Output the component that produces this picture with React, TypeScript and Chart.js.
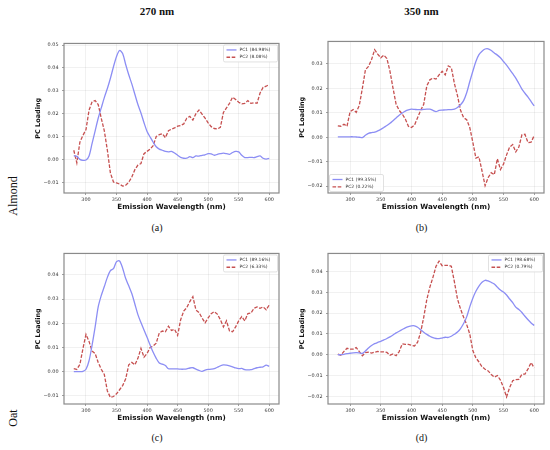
import React, { useEffect, useRef } from 'react';
import { Chart, registerables } from 'chart.js';

Chart.register(...registerables);
Chart.defaults.font.family = '"DejaVu Sans", sans-serif';

// Emission wavelengths (nm), 5 nm step
const wavelengths = [
  280, 285, 290, 295, 300, 305, 310, 315, 320, 325, 330, 335, 340,
  345, 350, 355, 360, 365, 370, 375, 380, 385, 390, 395, 400, 405,
  410, 415, 420, 425, 430, 435, 440, 445, 450, 455, 460, 465, 470,
  475, 480, 485, 490, 495, 500, 505, 510, 515, 520, 525, 530, 535,
  540, 545, 550, 555, 560, 565, 570, 575, 580, 585, 590, 595, 600,
];

// (a) Almond, excitation 270 nm
const almond270PC1 = [
  0.0016, 0.0013, 0.0000, -0.0004, -0.0003, 0.0015, 0.0070, 0.0125, 0.0180, 0.0225, 0.0270, 0.0310, 0.0355,
  0.0405, 0.0450, 0.0476, 0.0463, 0.0415, 0.0370, 0.0330, 0.0285, 0.0240, 0.0203, 0.0160, 0.0122, 0.0098,
  0.0075, 0.0055, 0.0045, 0.0040, 0.0035, 0.0033, 0.0035, 0.0028, 0.0018, 0.0009, 0.0005, 0.0005, 0.0012,
  0.0008, 0.0015, 0.0014, 0.0018, 0.0020, 0.0025, 0.0024, 0.0018, 0.0022, 0.0025, 0.0027, 0.0025, 0.0022,
  0.0030, 0.0035, 0.0033, 0.0018, 0.0008, 0.0008, 0.0009, 0.0008, 0.0012, 0.0015, 0.0005, 0.0001, 0.0004,
];
const almond270PC2 = [
  0.0040, -0.0015, 0.0075, 0.0105, 0.0130, 0.0215, 0.0252, 0.0257, 0.0240, 0.0180, 0.0125, 0.0040, -0.0060,
  -0.0099, -0.0103, -0.0108, -0.0117, -0.0113, -0.0100, -0.0077, -0.0045, -0.0025, -0.0018, 0.0025, 0.0035, 0.0045,
  0.0060, 0.0100, 0.0108, 0.0112, 0.0095, 0.0125, 0.0132, 0.0138, 0.0145, 0.0148, 0.0155, 0.0180, 0.0188,
  0.0172, 0.0200, 0.0216, 0.0198, 0.0180, 0.0160, 0.0143, 0.0135, 0.0133, 0.0140, 0.0205, 0.0225, 0.0245,
  0.0272, 0.0262, 0.0250, 0.0243, 0.0245, 0.0257, 0.0245, 0.0248, 0.0245, 0.0290, 0.0315, 0.0320, 0.0328,
];

// (b) Almond, excitation 350 nm
const almond350PC1 = [
  0.0002, 0.0002, 0.0002, 0.0002, 0.0002, 0.0002, 0.0001, 0.0000, -0.0001, 0.0008, 0.0016, 0.0019, 0.0021,
  0.0026, 0.0032, 0.0040, 0.0048, 0.0057, 0.0068, 0.0079, 0.0090, 0.0099, 0.0107, 0.0112, 0.0115, 0.0114,
  0.0113, 0.0113, 0.0114, 0.0115, 0.0115, 0.0110, 0.0105, 0.0110, 0.0111, 0.0112, 0.0113, 0.0113, 0.0115,
  0.0122, 0.0133, 0.0150, 0.0182, 0.0227, 0.0270, 0.0310, 0.0338, 0.0352, 0.0361, 0.0362, 0.0355, 0.0345,
  0.0336, 0.0325, 0.0310, 0.0295, 0.0278, 0.0260, 0.0242, 0.0220, 0.0197, 0.0180, 0.0164, 0.0146, 0.0128,
];
const almond350PC2 = [
  0.0047, 0.0045, 0.0053, 0.0045, 0.0105, 0.0113, 0.0102, 0.0130, 0.0200, 0.0276, 0.0290, 0.0318, 0.0358,
  0.0340, 0.0325, 0.0336, 0.0322, 0.0270, 0.0200, 0.0135, 0.0110, 0.0095, 0.0075, 0.0045, 0.0040, 0.0050,
  0.0080, 0.0110, 0.0135, 0.0210, 0.0235, 0.0242, 0.0238, 0.0255, 0.0270, 0.0255, 0.0292, 0.0285, 0.0220,
  0.0170, 0.0110, 0.0080, 0.0072, 0.0040, -0.0020, -0.0085, -0.0080, -0.0138, -0.0198, -0.0165, -0.0145, -0.0153,
  -0.0088, -0.0132, -0.0110, -0.0072, -0.0040, -0.0030, -0.0060, -0.0040, 0.0010, 0.0012, -0.0022, -0.0020, 0.0007,
];

// (c) Oat, excitation 270 nm
const oat270PC1 = [
  0.0000, 0.0000, 0.0000, 0.0001, 0.0010, 0.0045, 0.0110, 0.0185, 0.0268, 0.0315, 0.0352, 0.0390, 0.0418,
  0.0426, 0.0455, 0.0458, 0.0428, 0.0385, 0.0355, 0.0323, 0.0280, 0.0236, 0.0203, 0.0172, 0.0142, 0.0110,
  0.0080, 0.0055, 0.0036, 0.0031, 0.0025, 0.0012, 0.0011, 0.0011, 0.0011, 0.0010, 0.0010, 0.0011, 0.0015,
  0.0016, 0.0010, 0.0005, 0.0001, 0.0006, 0.0009, 0.0010, 0.0012, 0.0018, 0.0024, 0.0028, 0.0027, 0.0024,
  0.0020, 0.0015, 0.0012, 0.0013, 0.0008, 0.0007, 0.0008, 0.0012, 0.0016, 0.0018, 0.0020, 0.0027, 0.0022,
];
const oat270PC2 = [
  0.0012, 0.0009, 0.0030, 0.0095, 0.0154, 0.0125, 0.0085, 0.0075, 0.0038, 0.0010, -0.0012, -0.0080, -0.0107,
  -0.0103, -0.0092, -0.0075, -0.0058, -0.0030, 0.0028, 0.0038, 0.0028, 0.0055, 0.0096, 0.0060, 0.0075, 0.0100,
  0.0106, 0.0118, 0.0160, 0.0168, 0.0165, 0.0188, 0.0170, 0.0175, 0.0150, 0.0215, 0.0250, 0.0265, 0.0290,
  0.0310, 0.0255, 0.0245, 0.0222, 0.0202, 0.0222, 0.0240, 0.0248, 0.0238, 0.0215, 0.0185, 0.0210, 0.0168,
  0.0165, 0.0185, 0.0210, 0.0228, 0.0210, 0.0240, 0.0242, 0.0262, 0.0268, 0.0262, 0.0268, 0.0256, 0.0276,
];

// (d) Oat, excitation 350 nm
const oat350PC1 = [
  0.0000, 0.0000, 0.0002, 0.0005, 0.0007, 0.0009, 0.0010, 0.0009, 0.0006, 0.0018, 0.0032, 0.0044, 0.0053,
  0.0059, 0.0064, 0.0071, 0.0078, 0.0086, 0.0095, 0.0105, 0.0113, 0.0121, 0.0129, 0.0135, 0.0139, 0.0139,
  0.0132, 0.0120, 0.0108, 0.0098, 0.0089, 0.0082, 0.0078, 0.0077, 0.0080, 0.0084, 0.0083, 0.0089, 0.0098,
  0.0109, 0.0126, 0.0150, 0.0182, 0.0230, 0.0272, 0.0305, 0.0330, 0.0348, 0.0358, 0.0355, 0.0348, 0.0340,
  0.0325, 0.0311, 0.0301, 0.0287, 0.0268, 0.0250, 0.0229, 0.0217, 0.0203, 0.0185, 0.0168, 0.0153, 0.0141,
];
const oat350PC2 = [
  0.0003, -0.0002, 0.0016, 0.0031, 0.0027, 0.0027, 0.0034, 0.0015, -0.0005, 0.0010, 0.0012, 0.0008, 0.0012,
  0.0016, 0.0014, 0.0014, 0.0011, -0.0002, 0.0004, -0.0005, 0.0015, 0.0052, 0.0050, 0.0050, 0.0045, 0.0042,
  0.0060, 0.0108, 0.0180, 0.0265, 0.0325, 0.0372, 0.0425, 0.0450, 0.0428, 0.0430, 0.0430, 0.0425, 0.0350,
  0.0268, 0.0220, 0.0180, 0.0145, 0.0100, 0.0020, -0.0015, -0.0035, -0.0058, -0.0070, -0.0078, -0.0095, -0.0108,
  -0.0100, -0.0122, -0.0158, -0.0203, -0.0158, -0.0125, -0.0120, -0.0119, -0.0094, -0.0093, -0.0068, -0.0038, -0.0064,
];

const xTicks = [300, 350, 400, 450, 500, 550, 600];
const yTicksA = [-0.01, 0, 0.01, 0.02, 0.03, 0.04, 0.05];
const yTicksB = [-0.02, -0.01, 0, 0.01, 0.02, 0.03];
const yTicksC = [-0.01, 0, 0.01, 0.02, 0.03, 0.04];
const yTicksD = [-0.02, -0.01, 0, 0.01, 0.02, 0.03, 0.04];

const legendA = ['PC1 (84.98%)', 'PC2 (8.08%)'];
const legendB = ['PC1 (99.35%)', 'PC2 (0.22%)'];
const legendC = ['PC1 (89.16%)', 'PC2 (6.33%)'];
const legendD = ['PC1 (98.68%)', 'PC2 (0.79%)'];

const PC1_COLOR = '#8c8ef4';
const PC2_COLOR = '#c65050';
const Y_AXIS_W = 40;
const X_AXIS_H = 22;
const PAD = 4;

const fmtY = (v: number): string => {
  const s = Math.abs(v) < 1e-9 ? '0.00' : v.toFixed(2);
  return s.replace('-', '\u2212');
};

interface PanelProps {
  box: [number, number, number, number]; // left, top, right, bottom of the axes
  pc1: number[];
  pc2: number[];
  labels: string[];
  yMin: number;
  yMax: number;
  yTicks: number[];
  legendPos: 'upper right' | 'lower left';
}

const Panel: React.FC<PanelProps> = ({ box, pc1, pc2, labels, yMin, yMax, yTicks, legendPos }) => {
  const canvasRef = useRef<HTMLCanvasElement>(null);
  const [l, t, r, b] = box;
  const width = r - l + Y_AXIS_W + PAD;
  const height = b - t + X_AXIS_H + PAD;

  useEffect(() => {
    if (!canvasRef.current) return;

    // axes frame (spines)
    const framePlugin = {
      id: 'frame',
      afterDatasetsDraw(chart: Chart) {
        const { ctx, chartArea: a } = chart;
        ctx.save();
        ctx.strokeStyle = '#8a8a8a';
        ctx.lineWidth = 1.2;
        ctx.strokeRect(a.left, a.top, a.right - a.left, a.bottom - a.top);
        ctx.restore();
      },
    };

    // matplotlib style legend inside the axes
    const legendPlugin = {
      id: 'innerLegend',
      afterDraw(chart: Chart) {
        const { ctx, chartArea: a } = chart;
        const w = 54;
        const h = 17;
        const x = legendPos === 'upper right' ? a.right - w - 1.5 : a.left + 1.5;
        const y = legendPos === 'upper right' ? a.top + 1.5 : a.bottom - h - 1.5;
        ctx.save();
        ctx.fillStyle = 'rgba(255,255,255,0.85)';
        ctx.strokeStyle = '#d4d4d4';
        ctx.lineWidth = 0.7;
        ctx.beginPath();
        ctx.roundRect(x, y, w, h, 1.5);
        ctx.fill();
        ctx.stroke();
        chart.data.datasets.forEach((ds: any, i: number) => {
          const cy = y + 5 + i * 7.3;
          ctx.strokeStyle = ds.borderColor;
          ctx.lineWidth = ds.borderWidth;
          ctx.setLineDash(ds.borderDash || []);
          ctx.beginPath();
          ctx.moveTo(x + 3, cy);
          ctx.lineTo(x + 13, cy);
          ctx.stroke();
          ctx.setLineDash([]);
          ctx.fillStyle = '#333';
          ctx.font = '4.5px "DejaVu Sans"';
          ctx.textBaseline = 'middle';
          ctx.textAlign = 'left';
          ctx.fillText(ds.label, x + 16, cy);
        });
        ctx.restore();
      },
    };

    const chart = new Chart(canvasRef.current, {
      type: 'line',
      data: {
        datasets: [
          {
            label: labels[0],
            data: wavelengths.map((w, i) => ({ x: w, y: pc1[i] })),
            borderColor: PC1_COLOR,
            borderWidth: 1.3,
            pointRadius: 0,
            tension: 0.3,
          },
          {
            label: labels[1],
            data: wavelengths.map((w, i) => ({ x: w, y: pc2[i] })),
            borderColor: PC2_COLOR,
            borderWidth: 1.3,
            borderDash: [3.6, 1.6],
            pointRadius: 0,
            tension: 0,
          },
        ],
      },
      options: {
        animation: false,
        responsive: true,
        maintainAspectRatio: false,
        layout: { padding: { left: 0, top: PAD, right: PAD, bottom: 0 } },
        plugins: { legend: { display: false }, tooltip: { enabled: false } },
        scales: {
          x: {
            type: 'linear',
            min: 264,
            max: 616,
            afterFit: (scale: any) => { scale.height = X_AXIS_H; },
            afterBuildTicks: (scale: any) => { scale.ticks = xTicks.map(v => ({ value: v })); },
            grid: { color: 'rgba(0,0,0,0.07)', lineWidth: 0.8, tickLength: 2, tickColor: '#777', tickWidth: 0.7 },
            border: { display: false },
            ticks: {
              color: '#333',
              font: { size: 4.9 },
              padding: 1.4,
              maxRotation: 0,
              autoSkip: false,
              includeBounds: false,
              callback: (v: any) => String(v),
            },
            title: {
              display: true,
              text: 'Emission Wavelength (nm)',
              color: '#111',
              font: { size: 7.2, weight: 'bold' },
              padding: { top: 0, bottom: 4 },
            },
          },
          y: {
            type: 'linear',
            min: yMin,
            max: yMax,
            afterFit: (scale: any) => { scale.width = Y_AXIS_W; },
            afterBuildTicks: (scale: any) => { scale.ticks = yTicks.map(v => ({ value: v })); },
            grid: { color: 'rgba(0,0,0,0.07)', lineWidth: 0.8, tickLength: 2, tickColor: '#777', tickWidth: 0.7 },
            border: { display: false },
            ticks: {
              color: '#333',
              font: { size: 4.9 },
              padding: 3.5,
              autoSkip: false,
              includeBounds: false,
              callback: (v: any) => fmtY(Number(v)),
            },
            title: {
              display: true,
              text: 'PC Loading',
              color: '#111',
              font: { size: 6.5, weight: 'bold' },
              padding: { top: 10.6, bottom: 0 },
            },
          },
        },
      },
      plugins: [framePlugin, legendPlugin],
    });

    return () => {
      chart.destroy();
    };
  }, [pc1, pc2, labels, yMin, yMax, yTicks, legendPos]);

  return (
    <div
      style={{
        position: 'absolute',
        left: l - Y_AXIS_W,
        top: t - PAD,
        width,
        height,
      }}
    >
      <canvas ref={canvasRef} />
    </div>
  );
};

const serif = '"Liberation Serif", "DejaVu Serif", serif';

const Label: React.FC<{ x: number; y: number; size: number; bold?: boolean; rotate?: boolean; children: React.ReactNode }> = ({ x, y, size, bold, rotate, children }) => (
  <div
    style={{
      position: 'absolute',
      left: x,
      top: y,
      transform: `translate(-50%, -50%)${rotate ? ' rotate(-90deg)' : ''}`,
      fontFamily: serif,
      fontSize: size,
      fontWeight: bold ? 'bold' : 'normal',
      color: '#111',
      whiteSpace: 'nowrap',
      lineHeight: 1,
    }}
  >
    {children}
  </div>
);

const App: React.FC = () => {
  return (
    <div style={{ position: 'absolute', left: 0, top: 0, width: 550, height: 450, background: '#fff', overflow: 'hidden' }}>
      <Label x={157} y={11} size={11} bold>270 nm</Label>
      <Label x={421.5} y={11} size={11} bold>350 nm</Label>
      <Label x={12.5} y={196} size={12} rotate>Almond</Label>
      <Label x={12.5} y={418} size={12} rotate>Oat</Label>

      <Panel box={[64, 41, 279, 193]} pc1={almond270PC1} pc2={almond270PC2} labels={legendA}
        yMin={-0.0147} yMax={0.0507} yTicks={yTicksA} legendPos="upper right" />
      <Panel box={[328, 39, 544, 193]} pc1={almond350PC1} pc2={almond350PC2} labels={legendB}
        yMin={-0.0228} yMax={0.0392} yTicks={yTicksB} legendPos="lower left" />
      <Panel box={[64, 251, 279, 404]} pc1={oat270PC1} pc2={oat270PC2} labels={legendC}
        yMin={-0.0134} yMax={0.0489} yTicks={yTicksC} legendPos="upper right" />
      <Panel box={[328, 251, 544, 404]} pc1={oat350PC1} pc2={oat350PC2} labels={legendD}
        yMin={-0.0237} yMax={0.0487} yTicks={yTicksD} legendPos="upper right" />

      <Label x={157} y={227.5} size={10}>(a)</Label>
      <Label x={421.5} y={227.5} size={10}>(b)</Label>
      <Label x={157} y={438} size={10}>(c)</Label>
      <Label x={421.5} y={438} size={10}>(d)</Label>
    </div>
  );
};

export default App;
